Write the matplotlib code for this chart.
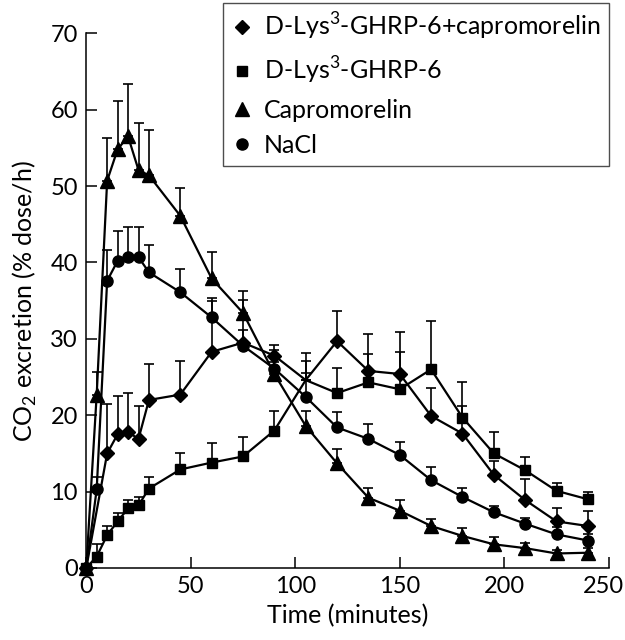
import numpy as np
import matplotlib
matplotlib.use('Agg')
import matplotlib.pyplot as plt
from matplotlib.transforms import ScaledTranslation

plt.rcParams['font.family'] = ['Lato', 'DejaVu Sans']
plt.rcParams['mathtext.fontset'] = 'custom'
plt.rcParams['mathtext.rm'] = 'Lato'

t = [0, 5, 10, 15, 20, 25, 30, 45, 60, 75, 90, 105, 120, 135, 150, 165, 180, 195, 210, 225, 240]
t_combo = [0, 10, 15, 20, 25, 30, 45, 60, 75, 90, 105, 120, 135, 150, 165, 180, 195, 210, 225, 240]

combo = [0, 15.0, 17.5, 17.8, 16.9, 22.0, 22.7, 28.3, 29.5, 27.8, 24.6, 29.7, 25.8, 25.4, 19.9, 17.6, 12.2, 8.9, 6.1, 5.5]
combo_top = [0, 21.5, 22.5, 22.9, 21.2, 26.7, 27.1, 34.9, 31.1, 29.2, 28.2, 33.6, 30.6, 30.9, 23.6, 21.2, 14.0, 11.7, 7.8, 7.4]

dlys = [0, 1.5, 4.3, 6.1, 7.8, 8.2, 10.4, 12.9, 13.8, 14.6, 18.0, 24.6, 22.9, 24.3, 23.4, 26.0, 19.7, 15.0, 12.8, 10.1, 9.0]
dlys_top = [0, 3.1, 5.5, 7.2, 8.9, 9.3, 11.9, 15.1, 16.4, 17.2, 20.6, 25.5, 26.2, 28.0, 28.3, 32.3, 24.4, 17.8, 14.5, 11.1, 9.9]

capro = [0, 22.7, 50.7, 54.8, 56.5, 52.1, 51.4, 46.1, 37.9, 33.4, 25.4, 18.6, 13.7, 9.2, 7.5, 5.5, 4.2, 3.1, 2.6, 1.9, 2.0]
capro_top = [0, 25.7, 56.3, 61.2, 63.3, 58.3, 57.3, 49.8, 41.4, 36.3, 27.0, 20.6, 15.6, 10.5, 8.9, 6.4, 5.2, 4.0, 3.3, 2.4, 2.6]

nacl = [0, 10.3, 37.6, 40.2, 40.7, 40.7, 38.7, 36.1, 32.8, 29.1, 26.1, 22.4, 18.4, 16.9, 14.8, 11.5, 9.3, 7.3, 5.8, 4.4, 3.6]
nacl_top = [0, 11.9, 41.6, 44.1, 44.7, 44.7, 42.3, 39.1, 35.3, 35.1, 28.5, 27.1, 20.4, 18.9, 16.5, 13.2, 10.5, 8.1, 6.6, 5.4, 4.4]

labels = ['D-Lys$^{3}$-GHRP-6+capromorelin', 'D-Lys$^{3}$-GHRP-6', 'Capromorelin', 'NaCl']

fig = plt.figure(figsize=(6.25, 6.4), dpi=100)
ax = fig.add_axes([0.138, 0.1125, 0.836, 0.8355])

series = [
    (t_combo, combo, combo_top, 'D', 7, labels[0]),
    (t, dlys, dlys_top, 's', 7.5, labels[1]),
    (t, capro, capro_top, '^', 9.5, labels[2]),
    (t, nacl, nacl_top, 'o', 8, labels[3]),
]

handles = []
for tt, y, top, mk, ms, lab in series:
    y = np.array(y)
    err = np.array(top) - y
    ax.errorbar(tt, y, yerr=[np.zeros_like(err), err], fmt='none', ecolor='black',
                elinewidth=1.2, capsize=3.5, capthick=1.2, clip_on=False)
    # markers at 105 min are hidden in the original for the two D-Lys groups
    if mk in ('D', 's'):
        every = [i for i, v in enumerate(tt) if v != 105]
    else:
        every = None
    ln, = ax.plot(tt, y, color='black', lw=1.6, marker=mk, ms=ms, markevery=every,
                  clip_on=False, zorder=3, label=lab)
    handles.append(ln)

ax.set_xlim(0, 250)
ax.set_ylim(0, 70)
ax.set_xticks(range(0, 251, 50))
ax.set_yticks(range(0, 71, 10))
ax.spines['top'].set_visible(False)
ax.spines['right'].set_visible(False)
for s in ('left', 'bottom'):
    ax.spines[s].set_linewidth(1.1)
ax.tick_params(direction='in', length=8, width=1.1, labelsize=17, pad=6)
ax.set_xlabel('Time (minutes)', fontsize=18, labelpad=5)
ax.set_ylabel('CO$_{2}$ excretion (% dose/h)', fontsize=18, labelpad=8)

# nudge "250" a little left so it stays inside the figure
last = ax.xaxis.get_major_ticks()[-1].label1
last.set_transform(last.get_transform() + ScaledTranslation(-5 / 100, 0, fig.dpi_scale_trans))

leg = fig.legend(handles=handles, loc='upper right', bbox_to_anchor=(0.979, 1.0),
                 fontsize=18, frameon=True, fancybox=False, edgecolor='#222222',
                 handlelength=0.8, handletextpad=0.5, labelspacing=0.5,
                 borderpad=0.35, borderaxespad=0.1, markerscale=1.0)
for h in leg.legend_handles:
    h.set_linestyle('none')
leg.get_frame().set_linewidth(1.0)

fig.savefig('out.png', dpi=100)
